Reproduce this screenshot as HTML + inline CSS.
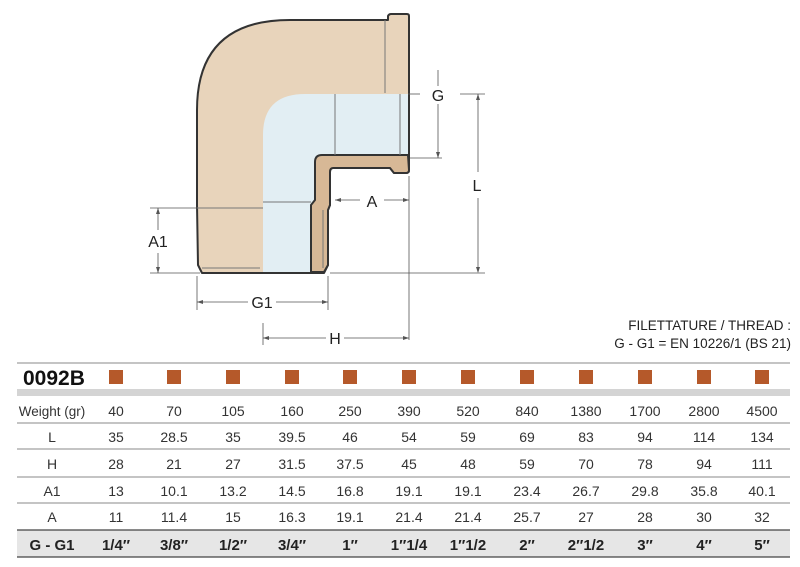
<!DOCTYPE html>
<html><head><style>
html,body{margin:0;padding:0;background:#fff;}
svg{display:block;font-family:"Liberation Sans",sans-serif;}
</style></head><body>
<svg width="800" height="567" viewBox="0 0 800 567" xmlns="http://www.w3.org/2000/svg">
<!-- body -->
<path d="M197,110 Q197,20 290,20 L388,20 L388,16 Q389,14 391,14 L407,14 Q409,14 409,16 L409,170 Q409,173 406,173 L394,173 L390,168 L333,168 Q330,168 330,172 L330,205 L328,210 L328,265 L324,273 L202,273 L198,265 L197,205 Z" fill="#e8d4bb" stroke="#333" stroke-width="2" stroke-linejoin="round"/>
<!-- inner blue -->
<path d="M263,135 Q263,94 305,94 L408,94 L408,155 L322,155 Q315,155 315,162 L315,200 L311,205 L311,272 L263,272 Z" fill="#e2eef3"/>
<!-- wall -->
<path d="M408,155 L322,155 Q315,155 315,162 L315,200 L311,205 L311,272 L324,272 L328,265 L328,210 L330,205 L330,172 Q330,168 333,168 L390,168 L394,173 L406,173 Q409,173 409,170 Z" fill="#d7b896" stroke="#333" stroke-width="2" stroke-linejoin="round"/>
<g stroke="#777" stroke-width="1" fill="none">
<line x1="385" y1="20" x2="385" y2="93"/>
<line x1="335" y1="94" x2="335" y2="155"/>
<line x1="400" y1="94" x2="400" y2="155"/>
<line x1="263" y1="202" x2="311" y2="202"/>
<line x1="197" y1="208" x2="263" y2="208"/>
<line x1="202" y1="268" x2="260" y2="268"/>
<line x1="323" y1="210" x2="323" y2="268"/>
</g>
<!-- dimension lines -->
<g stroke="#555" stroke-width="0.8" fill="none">
<line x1="408" y1="94" x2="420" y2="94"/>
<line x1="410" y1="158" x2="442" y2="158"/>
<line x1="438" y1="70" x2="438" y2="86"/>
<line x1="438" y1="104" x2="438" y2="158"/>
<line x1="460" y1="94" x2="485" y2="94"/>
<line x1="478" y1="94" x2="478" y2="172"/>
<line x1="478" y1="198" x2="478" y2="272"/>
<line x1="330" y1="273" x2="485" y2="273"/>
<line x1="409" y1="176" x2="409" y2="340"/>
<line x1="335" y1="200" x2="360" y2="200"/>
<line x1="384" y1="200" x2="409" y2="200"/>
<line x1="150" y1="208" x2="197" y2="208"/>
<line x1="150" y1="273" x2="200" y2="273"/>
<line x1="158" y1="208" x2="158" y2="230"/>
<line x1="158" y1="253" x2="158" y2="273"/>
<line x1="197" y1="276" x2="197" y2="310"/>
<line x1="328" y1="276" x2="328" y2="310"/>
<line x1="197" y1="302" x2="248" y2="302"/>
<line x1="276" y1="302" x2="328" y2="302"/>
<line x1="263" y1="323" x2="263" y2="345"/>
<line x1="263" y1="338" x2="326" y2="338"/>
<line x1="344" y1="338" x2="409" y2="338"/>
</g>
<g fill="#555">
<path d="M438,158 l-2,-6 h4z"/><path d="M478,94 l-2,6 h4z"/><path d="M478,273 l-2,-6 h4z"/>
<path d="M335,200 l6,-2 v4z"/><path d="M409,200 l-6,-2 v4z"/>
<path d="M158,208 l-2,6 h4z"/><path d="M158,273 l-2,-6 h4z"/>
<path d="M197,302 l6,-2 v4z"/><path d="M328,302 l-6,-2 v4z"/>
<path d="M263,338 l6,-2 v4z"/><path d="M409,338 l-6,-2 v4z"/>
</g>
<g font-size="16" fill="#222" text-anchor="middle">
<text x="438" y="101">G</text>
<text x="477" y="191">L</text>
<text x="372" y="207">A</text>
<text x="158" y="247">A1</text>
<text x="262" y="308">G1</text>
<text x="335" y="344">H</text>
</g>
<g font-size="13.5" fill="#222" text-anchor="end">
<text x="791" y="330">FILETTATURE / THREAD :</text>
<text x="791" y="348">G - G1 = EN 10226/1 (BS 21)</text>
</g>
<!-- table -->
<rect x="17" y="530" width="773" height="27" fill="#e6e6e6"/>
<rect x="17" y="389" width="773" height="7" fill="#d4d4d4"/>
<g stroke="#888" stroke-width="1">
<line x1="17" y1="363" x2="790" y2="363"/>
<line x1="17" y1="423" x2="790" y2="423"/>
<line x1="17" y1="449" x2="790" y2="449"/>
<line x1="17" y1="477" x2="790" y2="477"/>
<line x1="17" y1="503" x2="790" y2="503"/>
</g>
<line x1="17" y1="530" x2="790" y2="530" stroke="#444" stroke-width="1.3"/>
<line x1="17" y1="557" x2="790" y2="557" stroke="#444" stroke-width="1.3"/>
<text x="23" y="385" font-size="21" font-weight="bold" fill="#111">0092B</text>
<g fill="#b5592a">
<rect x="109" y="370" width="14" height="14"/><rect x="167" y="370" width="14" height="14"/><rect x="226" y="370" width="14" height="14"/><rect x="285" y="370" width="14" height="14"/><rect x="343" y="370" width="14" height="14"/><rect x="402" y="370" width="14" height="14"/><rect x="461" y="370" width="14" height="14"/><rect x="520" y="370" width="14" height="14"/><rect x="579" y="370" width="14" height="14"/><rect x="638" y="370" width="14" height="14"/><rect x="697" y="370" width="14" height="14"/><rect x="755" y="370" width="14" height="14"/>
</g>
<g font-size="14" fill="#333" text-anchor="middle">
<text x="52" y="416" font-size="13.5">Weight (gr)</text>
<text x="52" y="442">L</text><text x="52" y="469">H</text><text x="52" y="496">A1</text><text x="52" y="522">A</text>
</g>
<g font-size="14" fill="#333" text-anchor="middle">
<text y="416"><tspan x="116">40</tspan><tspan x="174">70</tspan><tspan x="233">105</tspan><tspan x="292">160</tspan><tspan x="350">250</tspan><tspan x="409">390</tspan><tspan x="468">520</tspan><tspan x="527">840</tspan><tspan x="586">1380</tspan><tspan x="645">1700</tspan><tspan x="704">2800</tspan><tspan x="762">4500</tspan></text>
<text y="442"><tspan x="116">35</tspan><tspan x="174">28.5</tspan><tspan x="233">35</tspan><tspan x="292">39.5</tspan><tspan x="350">46</tspan><tspan x="409">54</tspan><tspan x="468">59</tspan><tspan x="527">69</tspan><tspan x="586">83</tspan><tspan x="645">94</tspan><tspan x="704">114</tspan><tspan x="762">134</tspan></text>
<text y="469"><tspan x="116">28</tspan><tspan x="174">21</tspan><tspan x="233">27</tspan><tspan x="292">31.5</tspan><tspan x="350">37.5</tspan><tspan x="409">45</tspan><tspan x="468">48</tspan><tspan x="527">59</tspan><tspan x="586">70</tspan><tspan x="645">78</tspan><tspan x="704">94</tspan><tspan x="762">111</tspan></text>
<text y="496"><tspan x="116">13</tspan><tspan x="174">10.1</tspan><tspan x="233">13.2</tspan><tspan x="292">14.5</tspan><tspan x="350">16.8</tspan><tspan x="409">19.1</tspan><tspan x="468">19.1</tspan><tspan x="527">23.4</tspan><tspan x="586">26.7</tspan><tspan x="645">29.8</tspan><tspan x="704">35.8</tspan><tspan x="762">40.1</tspan></text>
<text y="522"><tspan x="116">11</tspan><tspan x="174">11.4</tspan><tspan x="233">15</tspan><tspan x="292">16.3</tspan><tspan x="350">19.1</tspan><tspan x="409">21.4</tspan><tspan x="468">21.4</tspan><tspan x="527">25.7</tspan><tspan x="586">27</tspan><tspan x="645">28</tspan><tspan x="704">30</tspan><tspan x="762">32</tspan></text>
</g>
<g font-size="15" font-weight="bold" fill="#222" text-anchor="middle">
<text x="52" y="550">G - G1</text>
<text y="550"><tspan x="116">1/4″</tspan><tspan x="174">3/8″</tspan><tspan x="233">1/2″</tspan><tspan x="292">3/4″</tspan><tspan x="350">1″</tspan><tspan x="409">1″1/4</tspan><tspan x="468">1″1/2</tspan><tspan x="527">2″</tspan><tspan x="586">2″1/2</tspan><tspan x="645">3″</tspan><tspan x="704">4″</tspan><tspan x="762">5″</tspan></text>
</g>
</svg>
</body></html>
